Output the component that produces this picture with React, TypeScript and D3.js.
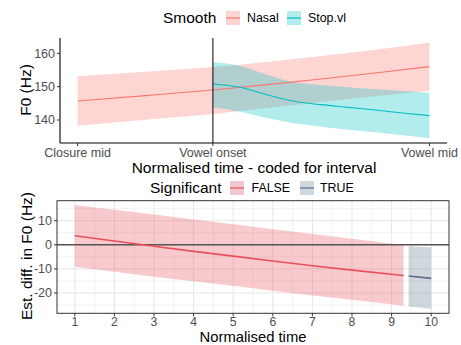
import * as d3 from "d3";

// top panel: GAMM smooths per onset type (x coded: -5 closure mid, 0 vowel onset, 8 vowel mid)
const nasalX = [-5, -2.5, 0, 2, 4, 6, 8];
const nasalFit = [145.7, 147.3, 149.0, 150.6, 152.3, 154.1, 156.0];
const nasalUpper = [153.1, 154.5, 155.9, 157.4, 159.2, 161.1, 163.2];
const nasalLower = [138.3, 140.1, 141.8, 143.6, 145.4, 147.1, 148.8];

const stopX = [0, 1, 2, 3, 4, 5, 6, 7, 8];
const stopFit = [150.8, 149.8, 147.6, 145.6, 144.6, 143.8, 143.0, 142.1, 141.3];
const stopUpper = [157.3, 156.2, 153.6, 151.3, 150.5, 149.8, 149.2, 148.7, 148.2];
const stopLower = [143.8, 142.5, 140.6, 139.0, 138.0, 137.1, 136.3, 135.4, 134.5];

const topTickValues = [-5, 0, 8];
const topTickLabels = ["Closure mid", "Vowel onset", "Vowel mid"];
const topYTicks = [140, 150, 160];

// bottom panel: estimated difference
const falseX = [1, 2, 3, 4, 5, 6, 7, 8, 9.3];
const falseFit = [3.75, 1.6, -0.6, -2.7, -4.7, -6.7, -8.7, -10.5, -12.7];
const falseUpper = [16.5, 14.5, 12.6, 10.5, 8.5, 6.5, 4.5, 2.5, -0.1];
const falseLower = [-9.1, -11.2, -13.2, -15.1, -17.0, -19.0, -21.0, -22.8, -25.3];

const trueX = [9.43, 10];
const trueFit = [-12.9, -13.9];
const trueUpper = [-0.5, -1.1];
const trueLower = [-25.6, -26.5];

const bottomXTicks = [1, 2, 3, 4, 5, 6, 7, 8, 9, 10];
const bottomXMinor = [1.5, 2.5, 3.5, 4.5, 5.5, 6.5, 7.5, 8.5, 9.5, 10.5];
const bottomYTicks = [-20, -10, 0, 10];
const bottomYMinor = [-25, -15, -5, 5, 15];

const FONT = "'Liberation Sans', Arial, Helvetica, sans-serif";
const TICK = "#4d4d4d";

type Row = { x: number; fit: number; lo: number; hi: number };
const rows = (xs: number[], fit: number[], lo: number[], hi: number[]): Row[] =>
  xs.map((x, i) => ({ x, fit: fit[i], lo: lo[i], hi: hi[i] }));

function LegendKey({ x, y, fill, stroke }: { x: number; y: number; fill: string; stroke: string }) {
  return (
    <g>
      <rect x={x} y={y} width={14} height={14} fill={fill} />
      <line x1={x} x2={x + 14} y1={y + 7} y2={y + 7} stroke={stroke} strokeWidth={1.2} />
    </g>
  );
}

export default function App() {
  const width = 461;
  const height = 345;

  // ---- top panel
  const tx = d3.scaleLinear([-5.65, 8.65], [60, 447]);
  const ty = d3.scaleLinear([133.1, 164.6], [143, 38]);
  const tArea = d3
    .area<Row>()
    .x((d) => tx(d.x))
    .y0((d) => ty(d.lo))
    .y1((d) => ty(d.hi))
    .curve(d3.curveMonotoneX);
  const tLine = d3
    .line<Row>()
    .x((d) => tx(d.x))
    .y((d) => ty(d.fit))
    .curve(d3.curveMonotoneX);
  const nasal = rows(nasalX, nasalFit, nasalLower, nasalUpper);
  const stop = rows(stopX, stopFit, stopLower, stopUpper);

  // ---- bottom panel
  const bx = d3.scaleLinear([0.55, 10.45], [57, 449]);
  const by = d3.scaleLinear([-28.4, 18.3], [313.3, 200.7]);
  const bArea = d3
    .area<Row>()
    .x((d) => bx(d.x))
    .y0((d) => by(d.lo))
    .y1((d) => by(d.hi));
  const bLine = d3
    .line<Row>()
    .x((d) => bx(d.x))
    .y((d) => by(d.fit));
  const sigFalse = rows(falseX, falseFit, falseLower, falseUpper);
  const sigTrue = rows(trueX, trueFit, trueLower, trueUpper);
  const [bx0, bx1] = bx.range();
  const [by0, by1] = by.range();

  return (
    <svg
      width={width}
      height={height}
      viewBox={`0 0 ${width} ${height}`}
      style={{ position: "absolute", left: 0, top: 0, background: "#fff" }}
      fontFamily={FONT}
    >
      {/* legend: Smooth */}
      <text x={163} y={23} fontSize={15.5} fill="#000">Smooth</text>
      <LegendKey x={226} y={11} fill="rgb(253,214,211)" stroke="#F8766D" />
      <text x={247} y={22} fontSize={12.4} fill="#000">Nasal</text>
      <LegendKey x={287} y={11} fill="rgb(178,236,237)" stroke="#00BFC4" />
      <text x={308} y={22} fontSize={12.4} fill="#000">Stop.vl</text>

      {/* top panel marks */}
      <path d={tArea(nasal) ?? ""} fill="#F8766D" fillOpacity={0.3} />
      <path d={tArea(stop) ?? ""} fill="#00BFC4" fillOpacity={0.3} />
      <path d={tLine(nasal) ?? ""} fill="none" stroke="#F8766D" strokeWidth={1.1} />
      <path d={tLine(stop) ?? ""} fill="none" stroke="#00BFC4" strokeWidth={1.1} />
      <line x1={tx(0)} x2={tx(0)} y1={ty.range()[1]} y2={ty.range()[0]} stroke="#000" strokeWidth={1} />

      {/* top axes */}
      <line x1={tx.range()[0]} x2={tx.range()[0]} y1={ty.range()[1]} y2={ty.range()[0]} stroke="#000" strokeWidth={1.1} />
      <line x1={tx.range()[0]} x2={tx.range()[1]} y1={ty.range()[0]} y2={ty.range()[0]} stroke="#000" strokeWidth={1.1} />
      {topYTicks.map((t) => (
        <g key={t}>
          <line x1={57} x2={60} y1={ty(t)} y2={ty(t)} stroke="#333" />
          <text x={55} y={ty(t) + 4.4} textAnchor="end" fontSize={12.5} fill={TICK}>{t}</text>
        </g>
      ))}
      {topTickValues.map((t, i) => (
        <g key={t}>
          <line x1={tx(t)} x2={tx(t)} y1={143} y2={146} stroke="#333" />
          <text x={tx(t)} y={156.5} textAnchor="middle" fontSize={12.5} fill={TICK}>{topTickLabels[i]}</text>
        </g>
      ))}
      <text x={254} y={172.5} textAnchor="middle" fontSize={15.5} fill="#000">
        Normalised time - coded for interval
      </text>
      <text x={0} y={0} transform="translate(31,90) rotate(-90)" textAnchor="middle" fontSize={15.5} fill="#000">
        F0 (Hz)
      </text>

      {/* legend: Significant */}
      <text x={150} y={193} fontSize={15.5} fill="#000">Significant</text>
      <LegendKey x={230} y={181} fill="rgb(242,200,207)" stroke="#e8505b" />
      <text x={251.5} y={192} fontSize={12.4} fill="#000">FALSE</text>
      <LegendKey x={300} y={181} fill="rgb(208,216,224)" stroke="#5b6e8c" />
      <text x={320} y={192} fontSize={12.4} fill="#000">TRUE</text>

      {/* bottom grid */}
      {bottomXMinor.filter((t) => bx(t) < bx1).map((t) => (
        <line key={`xm${t}`} x1={bx(t)} x2={bx(t)} y1={by1} y2={by0} stroke="#f2f2f2" strokeWidth={1} />
      ))}
      {bottomYMinor.map((t) => (
        <line key={`ym${t}`} x1={bx0} x2={bx1} y1={by(t)} y2={by(t)} stroke="#f2f2f2" strokeWidth={1} />
      ))}
      {bottomXTicks.map((t) => (
        <line key={`x${t}`} x1={bx(t)} x2={bx(t)} y1={by1} y2={by0} stroke="#e6e6e6" strokeWidth={1} />
      ))}
      {bottomYTicks.map((t) => (
        <line key={`y${t}`} x1={bx0} x2={bx1} y1={by(t)} y2={by(t)} stroke="#e6e6e6" strokeWidth={1} />
      ))}

      {/* bottom marks */}
      <path d={bArea(sigFalse) ?? ""} fill="#e8505b" fillOpacity={0.3} />
      <path d={bArea(sigTrue) ?? ""} fill="#5b6e8c" fillOpacity={0.28} />
      <line x1={bx0} x2={bx1} y1={by(0)} y2={by(0)} stroke="#555" strokeWidth={1.6} />
      <path d={bLine(sigFalse) ?? ""} fill="none" stroke="#e8505b" strokeWidth={1.6} />
      <path d={bLine(sigTrue) ?? ""} fill="none" stroke="#5b6e8c" strokeWidth={1.6} />

      {/* bottom frame + axes */}
      <rect x={bx0} y={by1} width={bx1 - bx0} height={by0 - by1} fill="none" stroke="#333" strokeWidth={1} />
      {bottomYTicks.map((t) => (
        <g key={`yt${t}`}>
          <line x1={bx0 - 3} x2={bx0} y1={by(t)} y2={by(t)} stroke="#333" />
          <text x={bx0 - 5} y={by(t) + 4.4} textAnchor="end" fontSize={12.5} fill={TICK}>{t}</text>
        </g>
      ))}
      {bottomXTicks.map((t) => (
        <g key={`xt${t}`}>
          <line x1={bx(t)} x2={bx(t)} y1={by0} y2={by0 + 3} stroke="#333" />
          <text x={bx(t)} y={325.8} textAnchor="middle" fontSize={12.2} fill={TICK}>{t}</text>
        </g>
      ))}
      <text x={253} y={341.8} textAnchor="middle" fontSize={14.8} fill="#000">Normalised time</text>
      <text x={0} y={0} transform="translate(32,256) rotate(-90)" textAnchor="middle" fontSize={15.5} fill="#000">
        Est. diff. in F0 (Hz)
      </text>
    </svg>
  );
}
